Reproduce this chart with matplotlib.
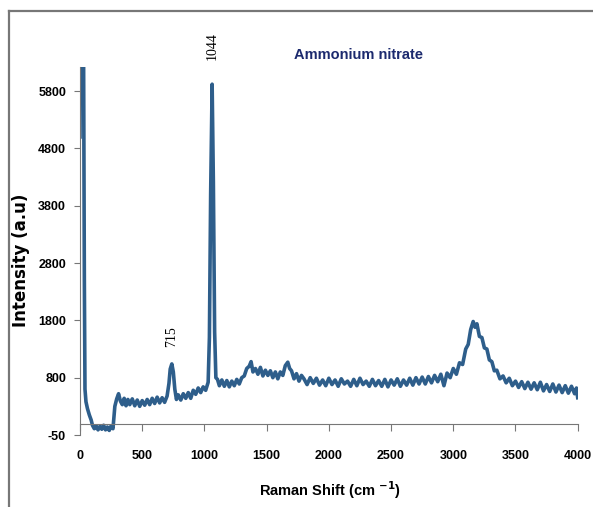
import matplotlib
matplotlib.use("Agg")
import matplotlib.pyplot as plt
from matplotlib.lines import Line2D

# Raman spectrum of ammonium nitrate
shift = [0, 4, 28, 35, 40, 48, 60, 75, 90, 100, 115, 130, 145, 160, 175, 190, 205, 220, 235, 250, 265,
         280, 295, 310, 325, 340, 355, 370, 385, 400, 420, 440, 460, 480, 500, 520, 540, 560, 580, 600,
         620, 640, 660, 680, 700, 715, 725, 738, 750, 762, 775, 790, 810, 830, 850, 870, 890, 910, 930,
         950, 970, 990, 1010, 1030, 1040, 1050, 1062, 1072, 1082, 1092, 1105, 1120, 1140, 1160, 1180,
         1200, 1220, 1240, 1260, 1280, 1300, 1320, 1340, 1360, 1375, 1390, 1410, 1430, 1450, 1470, 1490,
         1510, 1530, 1550, 1570, 1590, 1610, 1630, 1650, 1670, 1685, 1700, 1720, 1740, 1760, 1780,
         1800, 1825, 1850, 1875, 1900, 1925, 1950, 1975, 2000, 2025, 2050, 2075, 2100, 2125, 2150, 2175,
         2200, 2225, 2250, 2275, 2300, 2325, 2350, 2375, 2400, 2425, 2450, 2475, 2500, 2525, 2550, 2575,
         2600, 2625, 2650, 2675, 2700, 2725, 2750, 2775, 2800, 2825, 2850, 2875, 2900, 2925, 2950, 2975,
         3000, 3025, 3050, 3075, 3100, 3120, 3140, 3160, 3175, 3190, 3210, 3230, 3250, 3270, 3290, 3310,
         3330, 3350, 3375, 3400, 3425, 3450, 3475, 3500, 3525, 3550, 3575, 3600, 3625, 3650, 3675, 3700,
         3725, 3750, 3775, 3800, 3825, 3850, 3875, 3900, 3925, 3950, 3975, 3990, 4000]
intensity = [5000, 7000, 7000, 2500, 600, 380, 260, 150, 60, -30, -90, -40, -110, -50, -100, -30, -110, -60, -120, -40, -90,
             300, 430, 520, 390, 330, 440, 310, 420, 330, 430, 310, 410, 300, 400, 320, 420, 330, 440, 350,
             460, 360, 450, 370, 480, 700, 950, 1040, 900, 600, 420, 500, 410, 520, 440, 540, 440, 580, 510,
             620, 540, 640, 580, 720, 1500, 4000, 5920, 4200, 1600, 800, 770, 660, 760, 650, 750,
             640, 740, 660, 770, 690, 800, 830, 960, 1000, 1080, 900, 960, 860, 980, 830, 930,
             840, 920, 800, 900, 780, 900, 840, 1010, 1070, 960, 920, 780, 870, 740, 840,
             780, 680, 800, 700, 790, 670, 760, 660, 790, 680, 760, 650, 780, 690, 740, 650,
             770, 660, 790, 680, 740, 650, 770, 660, 750, 650, 770, 640, 760, 670, 780, 650,
             760, 670, 790, 670, 800, 690, 810, 690, 820, 710, 840, 730, 860, 660, 880, 800,
             960, 860, 1060, 1030, 1300, 1380, 1640, 1780, 1680, 1740, 1520, 1500, 1320, 1300, 1110, 1080,
             920, 930, 780, 830, 710, 790, 660, 740, 630, 730, 610, 720, 600, 710, 590, 720,
             570, 680, 560, 690, 550, 670, 540, 660, 530, 650, 520, 620, 450]

yticks = [-200, 800, 1800, 2800, 3800, 4800, 5800]
ytick_labels = ['-50', '800', '1800', '2800', '3800', '4800', '5800']
xticks = [0, 500, 1000, 1500, 2000, 2500, 3000, 3500, 4000]
peaks = [(738, 1515, '715'), (1062, 6590, '1044')]

fig = plt.figure(figsize=(5.93, 5.07), dpi=100)
ax = fig.add_axes([80 / 593, 72 / 507, 497.7 / 593, 368 / 507])

ax.plot(shift, intensity, color='#2e5e8b', lw=2.6, solid_joinstyle='round')

ax.set_xlim(0, 4000)
ax.set_ylim(-200, 6220)
ax.set_xticks(xticks)
ax.set_yticks(yticks)
ax.set_yticklabels(ytick_labels)

for s in ['top', 'right']:
    ax.spines[s].set_visible(False)
ax.spines['bottom'].set_position(('data', 0))
ax.spines['bottom'].set_color('#777777')
ax.spines['left'].set_color('#777777')
ax.tick_params(axis='x', direction='out', length=5, pad=14, color='#777777')
ax.tick_params(axis='y', direction='out', length=4, pad=6, color='#777777')
for lab in ax.get_xticklabels() + ax.get_yticklabels():
    lab.set_family('Liberation Sans')
    lab.set_fontweight('bold')
    lab.set_fontsize(9)

# peak labels
for x, y, txt in peaks:
    ax.text(x, y, txt, rotation=90, ha='center', va='center', fontsize=10,
            family='Liberation Serif', clip_on=False)

fig.text(358 / 593, 1 - 55 / 507, 'Ammonium nitrate', ha='center', va='center',
         fontsize=10.5, fontweight='bold', color='#1c2a6e', family='Liberation Sans')
fig.text(21 / 593, 1 - 260 / 507, 'Intensity (a.u)', rotation=90, ha='center', va='center',
         fontsize=12, fontweight='bold', family='DejaVu Sans')
fig.text(330 / 593, 1 - 490 / 507, 'Raman Shift (cm $^{\\mathbf{-1}}$)', ha='center', va='center',
         fontsize=10.5, fontweight='bold', family='Liberation Sans')

# outer frame (cut off at right and bottom)
fig.add_artist(Line2D([9 / 593, 9 / 593], [0, 1 - 11 / 507], color='#777777', lw=1.6))
fig.add_artist(Line2D([9 / 593, 1], [1 - 11 / 507, 1 - 11 / 507], color='#777777', lw=1.6))

fig.savefig('out.png', dpi=100)
